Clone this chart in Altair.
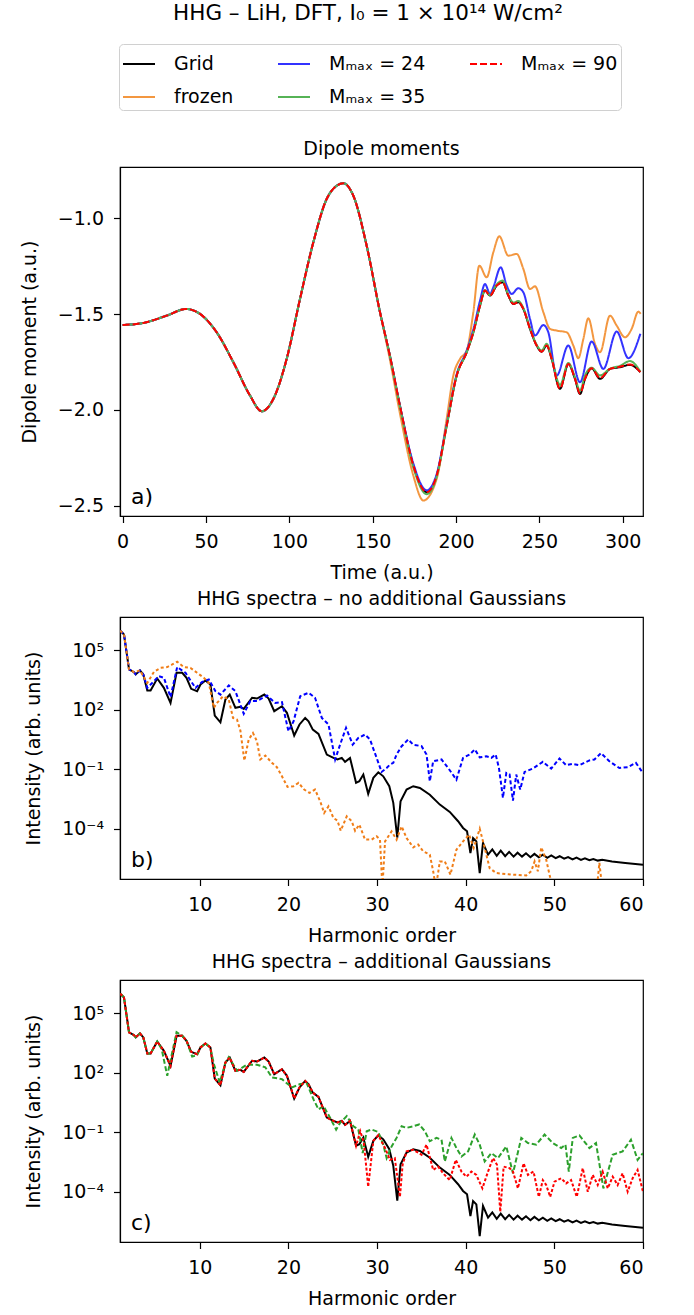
import altair as alt
import pandas as pd

FONT = "DejaVu Sans"
FS = 19

# ---------------- Panel a: dipole moments ----------------
A_T_COMMON = [0, 12.4, 26.4, 38, 46.4, 56.4, 66.4, 76.4, 83.4, 90.4, 98.4, 106.4,
              114.4, 122.4, 128.4, 132.4, 138.4, 146.4, 154.4]
A_V_COMMON = [-1.557, -1.546, -1.508, -1.473, -1.499, -1.595, -1.751, -1.925, -2.007,
              -1.943, -1.734, -1.421, -1.125, -0.899, -0.830, -0.817, -0.882, -1.143, -1.490]

GRID_T_LATE = [160.4, 166.4, 174.4, 182.4, 188.4, 194.4, 200.4, 206.4, 210.4, 214.4, 217.4,
               220.4, 224.4, 228, 231.4, 234.4, 237.4, 240.4, 244.4, 248.4, 251.4, 254.4,
               257.4, 262.4, 267.4, 271.4, 274.4, 277.4, 281.4, 286.4, 292.4, 298.4, 304.4, 310.6]
GRID_V_LATE = [-1.72, -1.98, -2.29, -2.43, -2.343, -2.082, -1.821, -1.699, -1.595, -1.456, -1.377,
               -1.403, -1.351, -1.334, -1.403, -1.447, -1.438, -1.473, -1.577, -1.664, -1.696, -1.664,
               -1.734, -1.89, -1.76, -1.838, -1.917, -1.838, -1.783, -1.838, -1.786, -1.777, -1.765, -1.803]
M35_V_LATE = [-1.72, -1.985, -2.30, -2.44, -2.35, -2.085, -1.821, -1.699, -1.595, -1.456, -1.375,
              -1.40, -1.345, -1.325, -1.40, -1.44, -1.432, -1.468, -1.572, -1.66, -1.69, -1.655,
              -1.73, -1.87, -1.755, -1.83, -1.90, -1.82, -1.78, -1.82, -1.785, -1.77, -1.745, -1.80]
M90_V_LATE = [-1.72, -1.98, -2.29, -2.43, -2.343, -2.082, -1.821, -1.699, -1.595, -1.456, -1.377,
              -1.403, -1.351, -1.334, -1.403, -1.447, -1.438, -1.473, -1.577, -1.664, -1.696, -1.664,
              -1.734, -1.89, -1.76, -1.838, -1.915, -1.838, -1.783, -1.835, -1.786, -1.775, -1.763, -1.803]

M24_T_LATE = [160.4, 166.4, 174.4, 182.4, 188.4, 194.4, 200.4, 206.4, 210.4, 214.4, 217.4, 220.4,
              222.4, 226.8, 230.4, 233.4, 237.4, 240.4, 244.4, 247.4, 252.4, 255.4, 260.4, 267.4,
              274.4, 281.4, 288.4, 296.4, 303.4, 310.6]
M24_V_LATE = [-1.72, -1.98, -2.28, -2.42, -2.335, -2.075, -1.815, -1.69, -1.58, -1.43, -1.343, -1.395,
              -1.36, -1.256, -1.35, -1.395, -1.365, -1.386, -1.525, -1.612, -1.557, -1.595, -1.821, -1.664,
              -1.856, -1.643, -1.786, -1.591, -1.730, -1.603]

FROZEN_T_LATE = [160.4, 166.4, 174.4, 180.4, 188.4, 194.4, 198.4, 202.4, 206.4, 210.4, 214, 218.4,
                 222.4, 226, 231.4, 236.4, 240.4, 244.4, 247.4, 252.4, 256.4, 260.4, 266.4, 270.4,
                 273.4, 276.4, 279.4, 283.4, 286.4, 292.4, 296.4, 301.4, 305.4, 309.4, 310.8]
FROZEN_V_LATE = [-1.74, -2.02, -2.343, -2.473, -2.36, -2.047, -1.821, -1.734, -1.69, -1.49, -1.247, -1.308,
                 -1.177, -1.094, -1.195, -1.186, -1.264, -1.369, -1.355, -1.49, -1.577, -1.586, -1.595, -1.664,
                 -1.730, -1.63, -1.522, -1.656, -1.699, -1.508, -1.56, -1.621, -1.577, -1.487, -1.499]

SERIES_KEYS = ["Grid", "M24", "M90", "frozen", "M35"]
SERIES_LABELS = ["Grid", "Mₘₐₓ = 24", "Mₘₐₓ = 90", "frozen", "Mₘₐₓ = 35"]
SERIES_COLORS = ["#000000", "#3333ff", "#ff0000", "#f39740", "#56b356"]
SERIES_DASH = [[1, 0], [1, 0], [7, 3], [1, 0], [1, 0]]

# ---------------- Panels b/c: HHG spectra (log10 intensity) ----------------
GRID_H = [1.0, 1.15, 1.45, 2.02, 2.58, 2.77, 3.25, 3.63, 4.08, 4.45, 5.2, 5.95, 6.7, 7.38, 8.02, 8.5,
          9.03, 9.7, 10.08, 10.64, 11.2, 11.69, 12.33, 12.89, 13.38, 14.02, 14.58, 14.96, 15.9, 16.45,
          17.28, 17.77, 18.4, 19.27, 19.83, 20.65, 21.25, 21.89, 22.27, 22.75, 23.39, 24.33, 25.08,
          25.53, 26.02, 26.39, 26.95, 27.63, 28.0, 28.45, 29.0, 29.58, 30.14, 30.7, 31.38, 31.83,
          32.28, 32.65, 33.33, 34.08, 34.83, 35.95, 37.08, 38.2, 39.14, 39.7, 40.15, 40.53, 40.83,
          41.2, 41.58, 41.95, 42.52, 43.0, 43.5, 43.95, 44.45, 44.9, 45.4, 45.85, 46.35, 46.8, 47.3,
          47.75, 48.25, 48.7, 49.2, 49.65, 50.15, 50.6, 51.1, 51.55, 52.05, 52.5, 53.0, 53.45, 53.95,
          54.4, 54.9, 55.4, 56.5, 58.0, 60.0]
GRID_L = [6.0, 5.94, 5.81, 4.04, 3.90, 3.79, 3.99, 3.79, 2.98, 2.98, 3.58, 3.11, 2.35, 3.87, 3.87, 3.62,
          3.06, 2.94, 3.28, 3.48, 3.28, 1.71, 1.37, 2.52, 2.77, 2.10, 2.15, 2.05, 2.61, 2.57,
          2.77, 2.57, 1.93, 2.18, 1.85, 0.70, 1.26, 1.59, 1.42, 1.00, 0.78, -0.26, -0.43,
          -0.51, -0.43, -0.63, -0.43, -1.69, -1.61, -1.27, -2.25, -1.44, -1.16, -1.36, -1.86, -2.70,
          -4.46, -2.62, -2.03, -1.86, -1.95, -2.29, -2.79, -3.16, -3.63, -3.97, -4.14, -5.24, -4.48,
          -4.65, -6.25, -4.73, -5.32, -5.05, -5.38, -5.12, -5.40, -5.18, -5.42, -5.22, -5.42, -5.25, -5.45,
          -5.28, -5.45, -5.32, -5.48, -5.36, -5.50, -5.40, -5.52, -5.44, -5.56, -5.47, -5.58, -5.50, -5.60,
          -5.54, -5.62, -5.58, -5.67, -5.74, -5.83]

B_M24_H = [1.0, 1.15, 1.45, 2.02, 2.58, 2.77, 3.25, 3.63, 4.08, 5.39, 5.95, 6.7, 7.45, 8.39, 8.95, 9.52,
           10.27, 11.02, 11.77, 12.33, 13.27, 14.02, 14.96, 15.7, 16.45, 17.58, 18.51, 19.27, 20.0,
           20.58, 21.33, 22.27, 23.0, 23.77, 24.52, 25.27, 25.83, 26.5, 27.25, 27.89, 28.64, 29.2,
           29.95, 30.51, 31.08, 31.45, 31.83, 32.2, 32.77, 33.52, 34.08, 35.02, 35.58, 35.95, 36.33,
           37.27, 38.02, 38.95, 39.7, 40.45, 41.02, 41.58, 42.33, 42.89, 43.38, 43.75, 44.2, 44.58,
           44.95, 45.33, 45.7, 46.15, 46.64, 47.58, 48.7, 49.64, 50.58, 51.33, 52.08, 52.83, 53.95,
           54.52, 55.27, 56.2, 57.33, 58.27, 59.2, 60.0]
B_M24_L = [6.0, 5.94, 5.81, 4.04, 3.90, 3.79, 3.99, 3.79, 3.11, 3.70, 3.62, 2.64, 4.16, 3.87, 3.48, 3.11,
           3.41, 3.53, 2.94, 2.77, 3.23, 2.94, 1.80, 2.44, 2.44, 2.72, 2.35, 2.39, 0.92,
           1.42, 2.69, 2.86, 2.61, 1.59, 1.26, -0.51, 0.24, 1.09, 0.24, 0.58, 0.75, 0.50,
           -0.43, -1.14, -0.94, -0.77, -0.68, -0.26, 0.16, 0.50, 0.24, 0.16, -0.26, -1.61, -0.60,
           -0.51, -0.94, -1.53, -0.43, -0.26, 0.0, -0.40, -0.35, -0.43, -0.26, -0.94, -2.45, -1.19,
           -1.27, -2.59, -1.27, -2.03, -1.14, -0.97, -0.63, -0.97, -0.46, -0.80, -0.73, -0.80, -0.56,
           -0.51, -0.19, -0.60, -0.94, -0.90, -0.68, -1.20]

B_FROZEN_H = [1.0, 1.15, 1.45, 2.02, 2.58, 3.25, 4.08, 4.83, 5.58, 6.33, 6.89, 7.45, 8.2, 8.95, 9.7,
              10.45, 11.02, 11.58, 11.95, 12.63, 13.27, 13.75, 14.2, 14.58, 15.03, 15.52, 16.0, 16.45,
              16.83, 17.39, 18.14, 18.7, 19.27, 19.9, 20.58, 21.14, 21.78, 22.38, 23.0, 23.58, 24.03,
              24.52, 25.08, 25.53, 25.9, 26.58, 27.14, 27.52, 28.0, 28.64, 29.39, 29.95, 30.33, 30.6,
              30.9, 31.64, 32.2, 32.77, 33.33, 34.08, 34.64, 35.2, 35.95, 36.33, 36.63, 37.08, 37.64,
              38.28, 38.95, 39.7, 40.38, 40.9, 41.58, 42.14, 42.7, 43.45, 45.33, 46.83, 47.39, 47.77,
              48.14, 48.52, 49.08, 49.45, 49.83, 52.0, 54.8, 55.08, 55.4, 57.0, 60.0]
B_FROZEN_L = [6.0, 5.94, 5.81, 4.04, 3.90, 3.99, 3.36, 3.92, 4.12, 4.16, 4.29, 4.43, 4.16, 4.12, 3.87,
              3.62, 3.36, 2.10, 2.35, 2.69, 2.52, 1.59, 1.51, 0.95, -0.57, 0.50, 0.83, 0.41,
              -0.51, -0.31, -0.68, -0.90, -1.36, -1.90, -1.86, -1.69, -2.03, -2.20, -2.03, -2.62, -3.21,
              -2.88, -3.47, -3.60, -4.11, -3.38, -3.63, -4.11, -3.80, -4.56, -4.56, -4.39, -4.56, -7.0,
              -4.65, -4.14, -4.56, -3.89, -4.48, -4.95, -4.81, -5.15, -5.32, -6.16, -7.0, -5.66, -5.66,
              -6.33, -5.07, -4.65, -4.31, -4.98, -4.01, -4.98, -6.0, -6.25, -6.33, -6.37, -6.16, -5.66,
              -6.16, -4.95, -5.57, -6.33, -7.0, -7.0, -7.0, -5.74, -7.0, -7.0, -7.0]

C_M35_H = [1.0, 1.15, 1.45, 2.02, 2.58, 2.77, 3.25, 3.63, 4.08, 4.45, 5.2, 5.7, 6.33, 7.38, 8.02, 8.5,
           9.14, 9.7, 10.08, 10.64, 11.2, 11.58, 12.25, 12.89, 13.27, 14.2, 15.33, 16.45, 17.39,
           18.14, 19.27, 20.39, 21.33, 22.08, 22.83, 23.39, 23.95, 24.7, 25.38, 25.83, 26.58, 27.33,
           27.89, 28.38, 28.83, 29.39, 30.14, 30.7, 31.08, 31.64, 32.2, 32.77, 33.33, 34.08, 34.75,
           35.39, 35.95, 36.7, 37.27, 37.64, 38.39, 38.95, 39.52, 40.27, 41.02, 41.58, 42.14, 42.89,
           43.64, 44.58, 45.33, 46.27, 47.02, 47.95, 48.89, 49.83, 50.77, 51.25, 51.63, 52.08, 52.83,
           53.95, 54.7, 55.53, 56.58, 57.7, 58.64, 59.39, 60.0]
C_M35_L = [6.0, 5.94, 5.81, 4.04, 3.90, 3.79, 3.99, 3.79, 2.98, 2.98, 3.58, 3.2, 1.85, 4.06, 3.87, 3.62,
           2.82, 2.90, 3.28, 3.48, 3.28, 2.45, 1.51, 2.50, 2.79, 2.11, 2.41, 2.41, 2.28,
           1.77, 1.68, 1.26, 1.43, 1.46, 0.66, 0.15, 0.32, -0.27, -0.87, -0.53, -0.19, -0.70,
           -0.87, -2.06, -0.95, -0.87, -0.99, -1.63, -2.31, -1.72, -1.29, -0.70, -0.78, -0.70, -0.61,
           -0.95, -1.46, -1.29, -1.38, -2.48, -1.29, -1.80, -2.23, -1.97, -1.12, -1.63, -2.48, -2.06,
           -2.31, -1.72, -3.08, -1.29, -1.55, -1.63, -1.12, -1.55, -1.80, -1.63, -2.99, -1.29, -1.16,
           -1.80, -1.55, -3.84, -2.14, -1.97, -1.38, -2.40, -2.06]

C_M90_H = [1.0, 1.15, 1.45, 2.02, 2.58, 2.77, 3.25, 3.63, 4.08, 4.45, 5.2, 5.95, 6.7, 7.38, 8.02, 8.5,
           9.03, 9.7, 10.08, 10.64, 11.2, 11.69, 12.33, 12.89, 13.38, 14.02, 14.58, 14.96, 15.9, 16.45,
           17.28, 17.77, 18.4, 19.27, 19.83, 20.65, 21.25, 21.89, 22.27, 22.75, 23.39, 24.33, 25.08,
           25.53, 26.02, 26.39, 26.95, 27.63, 28.1, 28.5, 29.0, 29.58, 30.14, 30.9, 31.45, 32.0,
           32.58, 32.88, 33.33, 34.08, 35.02, 35.58, 36.33, 36.89, 37.45, 38.2, 38.88, 39.52, 40.08,
           40.64, 41.2, 41.88, 42.52, 43.08, 43.53, 43.9, 44.28, 44.95, 45.33, 45.89, 46.53, 47.02,
           47.65, 48.25, 48.7, 49.08, 49.53, 50.02, 50.77, 51.33, 51.89, 52.53, 53.2, 53.77, 54.33,
           54.89, 55.45, 56.02, 56.58, 57.14, 57.7, 58.27, 58.83, 59.39, 60.0]
C_M90_L = [6.0, 5.94, 5.81, 4.04, 3.90, 3.79, 3.99, 3.79, 2.98, 2.98, 3.58, 3.11, 2.35, 3.87, 3.87, 3.62,
           3.06, 2.94, 3.28, 3.48, 3.28, 1.71, 1.37, 2.52, 2.77, 2.10, 2.15, 2.05, 2.61, 2.57,
           2.77, 2.57, 1.93, 2.18, 1.85, 0.70, 1.26, 1.59, 1.42, 1.00, 0.78, -0.26, -0.43,
           -0.51, -0.43, -0.63, -0.43, -1.69, -0.95, -1.50, -3.76, -1.44, -1.16, -1.80, -2.40, -2.31,
           -4.27, -2.65, -1.97, -1.89, -2.14, -1.63, -2.91, -2.74, -3.08, -3.42, -2.40, -2.99, -3.25,
           -2.99, -3.16, -3.84, -2.99, -2.31, -2.65, -5.03, -2.74, -2.82, -2.99, -3.84, -2.57, -3.16,
           -2.99, -4.27, -3.42, -3.67, -4.27, -3.50, -3.33, -3.59, -3.42, -4.27, -2.82, -4.01, -3.16,
           -3.67, -2.99, -3.84, -3.25, -3.67, -3.08, -4.01, -3.33, -2.91, -4.01]

LOG_TICKS = [1e-4, 1e-1, 1e2, 1e5]


def spec_df(h, l):
    return pd.DataFrame({"h": h, "I": [10.0 ** v for v in l]})


W = 523

# ---------------- Panel a ----------------
label_map = "{" + ",".join(f"'{k}':'{v}'" for k, v in zip(SERIES_KEYS, SERIES_LABELS)) + "}"
leg = alt.Legend(
    title=None, orient="none", legendX=-1, legendY=-123, columns=3, direction="horizontal",
    symbolType="stroke", symbolSize=1024, symbolStrokeWidth=2, labelFontSize=FS, labelFont=FONT,
    labelColor="black", strokeColor="#d0d0d0", fillColor="white", cornerRadius=4, padding=3,
    rowPadding=6, columnPadding=40, labelLimit=400, labelOffset=18,
    labelExpr=label_map + "[datum.label]",
)

xa = alt.X("t:Q", scale=alt.Scale(domain=[-1.6, 312.2], nice=False, zero=False),
           axis=alt.Axis(values=[0, 50, 100, 150, 200, 250, 300], format="d", title="Time (a.u.)"))
ya = alt.Y("v:Q", scale=alt.Scale(domain=[-2.554, -0.732], nice=False, zero=False),
           axis=alt.Axis(values=[-1.0, -1.5, -2.0, -2.5], format=".1f", title="Dipole moment (a.u.)"))
col = alt.Color("s:N", scale=alt.Scale(domain=SERIES_KEYS, range=SERIES_COLORS), legend=leg)
dash = alt.StrokeDash("s:N", scale=alt.Scale(domain=SERIES_KEYS, range=SERIES_DASH), legend=leg)


def a_layer(key, t_late, v_late):
    df = pd.DataFrame({"t": A_T_COMMON + t_late, "v": A_V_COMMON + v_late})
    df["s"] = key
    return alt.Chart(df).mark_line(strokeWidth=2, clip=True, interpolate="monotone").encode(
        x=xa, y=ya, color=col, strokeDash=dash)


def panel_label(txt, h):
    return alt.Chart(pd.DataFrame({"lab": [txt]})).mark_text(
        align="left", baseline="alphabetic", fontSize=22, font=FONT, color="black"
    ).encode(x=alt.value(11), y=alt.value(h - 12), text="lab:N")


def ptitle(txt):
    return alt.TitleParams(txt, fontSize=FS, font=FONT, fontWeight="normal", offset=8, color="black")


panel_a = alt.layer(
    a_layer("Grid", GRID_T_LATE, GRID_V_LATE),
    a_layer("frozen", FROZEN_T_LATE, FROZEN_V_LATE),
    a_layer("M24", M24_T_LATE, M24_V_LATE),
    a_layer("M35", GRID_T_LATE, M35_V_LATE),
    a_layer("M90", GRID_T_LATE, M90_V_LATE),
    panel_label("a)", 349),
).properties(width=W, height=349, title=ptitle("Dipole moments"))


# ---------------- Panels b, c ----------------
def spec_layer(h, l, color, dashes, width=2):
    kw = dict(strokeWidth=width, clip=True, color=color)
    if dashes:
        kw["strokeDash"] = dashes
    return alt.Chart(spec_df(h, l)).mark_line(**kw).encode(
        x=alt.X("h:Q", scale=alt.Scale(domain=[1, 60], nice=False, zero=False),
                axis=alt.Axis(values=[10, 20, 30, 40, 50, 60], format="d", title="Harmonic order")),
        y=alt.Y("I:Q", scale=alt.Scale(type="log", domain=[10 ** -6.55, 10 ** 6.69], nice=False),
                axis=alt.Axis(values=LOG_TICKS, title="Intensity (arb. units)",
                              labelExpr="datum.value > 1e4 ? '10⁵' : datum.value > 10 ? '10²' : datum.value > 0.01 ? '10⁻¹' : '10⁻⁴'")),
    )


panel_b = alt.layer(
    spec_layer(GRID_H, GRID_L, "black", None),
    spec_layer(B_M24_H, B_M24_L, "#0000ff", [4, 2.5]),
    spec_layer(B_FROZEN_H, B_FROZEN_L, "#f07d17", [3, 2.5]),
    panel_label("b)", 262),
).properties(width=W, height=262, title=ptitle("HHG spectra – no additional Gaussians"))

panel_c = alt.layer(
    spec_layer(GRID_H, GRID_L, "black", None),
    spec_layer(C_M35_H, C_M35_L, "#2ca02c", [5, 2.5]),
    spec_layer(C_M90_H, C_M90_L, "#ff0000", [3, 2]),
    panel_label("c)", 262),
).properties(width=W, height=262, title=ptitle("HHG spectra – additional Gaussians"))

chart = alt.vconcat(panel_a, panel_b, panel_c, spacing=5).properties(
    title=alt.TitleParams("HHG – LiH, DFT, I₀ = 1 × 10¹⁴ W/cm²", fontSize=21.5, font=FONT,
                          fontWeight="normal", anchor="middle", offset=19, dx=36, color="black"),
    padding={"left": 19, "top": 3, "right": 10, "bottom": 2},
    background="white",
).configure_view(stroke="black", strokeWidth=1.2).configure_axis(
    labelFont=FONT, titleFont=FONT, labelFontSize=FS, titleFontSize=FS, labelColor="black",
    titleColor="black", titleFontWeight="normal", tickColor="black", domainColor="black",
    tickSize=6.5, tickWidth=1.2, domainWidth=1.2, grid=False, labelPadding=10,
).configure_axisY(titlePadding=18).configure_axisX(titlePadding=12)

chart.save("out.html", embed_options={"renderer": "svg", "actions": False})
